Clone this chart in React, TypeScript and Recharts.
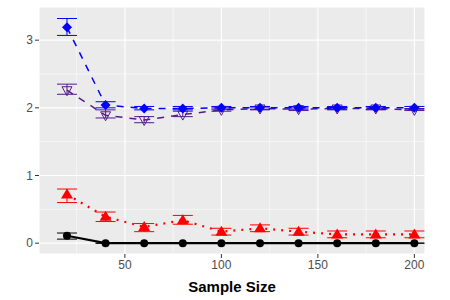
import { LineChart, Line, XAxis, YAxis, CartesianGrid, ErrorBar, ReferenceLine } from 'recharts';

const sampleSizes = [20, 40, 60, 80, 100, 120, 140, 160, 180, 200];

const blueMean = [3.19, 2.04, 1.99, 1.99, 2.0, 2.0, 2.0, 2.0, 2.0, 2.0];
const blueLow = [3.07, 2.0, 1.97, 1.97, 1.98, 1.98, 1.98, 1.98, 1.98, 1.98];
const blueHigh = [3.32, 2.09, 2.02, 2.02, 2.02, 2.02, 2.02, 2.02, 2.02, 2.02];

const purpleMean = [2.26, 1.89, 1.82, 1.9, 1.97, 1.99, 1.98, 1.99, 1.99, 1.97];
const purpleLow = [2.2, 1.85, 1.78, 1.87, 1.95, 1.97, 1.96, 1.97, 1.97, 1.96];
const purpleHigh = [2.35, 1.97, 1.87, 1.95, 2.0, 2.01, 2.0, 2.01, 2.01, 1.99];

const redMean = [0.72, 0.39, 0.24, 0.34, 0.17, 0.22, 0.17, 0.13, 0.13, 0.13];
const redLow = [0.6, 0.32, 0.17, 0.28, 0.12, 0.17, 0.12, 0.08, 0.08, 0.08];
const redHigh = [0.8, 0.46, 0.29, 0.41, 0.22, 0.27, 0.22, 0.18, 0.18, 0.18];

const blackMean = [0.11, 0, 0, 0, 0, 0, 0, 0, 0, 0];
const blackLow = [0.06, 0, 0, 0, 0, 0, 0, 0, 0, 0];
const blackHigh = [0.15, 0, 0, 0, 0, 0, 0, 0, 0, 0];

const xTicks = [50, 100, 150, 200];
const yTicks = [0, 1, 2, 3];
const xMinor = [25, 75, 125, 175];
const yMinor = [0.5, 1.5, 2.5];

const data = sampleSizes.map((n, i) => ({
  n,
  blue: blueMean[i],
  blueErr: [blueMean[i] - blueLow[i], blueHigh[i] - blueMean[i]],
  purple: purpleMean[i],
  purpleErr: [purpleMean[i] - purpleLow[i], purpleHigh[i] - purpleMean[i]],
  red: redMean[i],
  redErr: [redMean[i] - redLow[i], redHigh[i] - redMean[i]],
  black: blackMean[i],
  blackErr: [blackMean[i] - blackLow[i], blackHigh[i] - blackMean[i]],
}));

const Diamond = (props: any) => {
  const { cx, cy, index } = props;
  return <path key={`d-${index}`} d={`M${cx},${cy - 5}L${cx + 5},${cy}L${cx},${cy + 5}L${cx - 5},${cy}Z`} fill="#0000FF" />;
};

const DownTriangle = (props: any) => {
  const { cx, cy, index } = props;
  return (
    <path
      key={`v-${index}`}
      d={`M${cx - 5},${cy - 3.5}L${cx + 5},${cy - 3.5}L${cx},${cy + 5.5}Z`}
      fill="none"
      stroke="#551A8B"
      strokeWidth={1}
    />
  );
};

const UpTriangle = (props: any) => {
  const { cx, cy, index } = props;
  return <path key={`t-${index}`} d={`M${cx},${cy - 6}L${cx + 6},${cy + 4}L${cx - 6},${cy + 4}Z`} fill="#FF0000" />;
};

const Circle = (props: any) => {
  const { cx, cy, index } = props;
  return <circle key={`c-${index}`} cx={cx} cy={cy} r={4} fill="#000000" />;
};

const tickStyle = { fill: '#4D4D4D', fontSize: 12, fontFamily: 'Liberation Sans, Arial, sans-serif' };

export default function App() {
  return (
    <div style={{ position: 'absolute', left: 0, top: 0 }}>
      <LineChart width={450} height={300} data={data} margin={{ top: 7, right: 25, left: 0, bottom: 0 }}>
        <CartesianGrid fill="#EBEBEB" stroke="#FFFFFF" strokeWidth={1.1} />
        {xMinor.map((v) => (
          <ReferenceLine key={`xm-${v}`} x={v} stroke="#FFFFFF" strokeWidth={0.55} />
        ))}
        {yMinor.map((v) => (
          <ReferenceLine key={`ym-${v}`} y={v} stroke="#FFFFFF" strokeWidth={0.55} />
        ))}
        <XAxis
          dataKey="n"
          type="number"
          domain={[5.5, 205.5]}
          ticks={xTicks}
          allowDataOverflow
          axisLine={false}
          tickLine={{ stroke: '#333333' }}
          tickSize={4}
          tick={tickStyle}
          height={46}
          label={{
            value: 'Sample Size',
            position: 'insideBottom',
            offset: 8,
            style: { fill: '#000000', fontSize: 15, fontWeight: 'bold', fontFamily: 'Liberation Sans, Arial, sans-serif' },
          }}
        />
        <YAxis
          type="number"
          domain={[-0.16, 3.49]}
          ticks={yTicks}
          allowDataOverflow
          axisLine={false}
          tickLine={{ stroke: '#333333' }}
          tickSize={4}
          tick={tickStyle}
          width={39}
        />
        <Line dataKey="black" stroke="#000000" strokeWidth={2.2} dot={Circle} isAnimationActive={false}>
          <ErrorBar dataKey="blackErr" width={10} stroke="#000000" strokeWidth={1} />
        </Line>
        <Line dataKey="red" stroke="#FF0000" strokeWidth={2.2} strokeDasharray="2 6" dot={UpTriangle} isAnimationActive={false}>
          <ErrorBar dataKey="redErr" width={10} stroke="#FF0000" strokeWidth={1} />
        </Line>
        <Line dataKey="purple" stroke="#551A8B" strokeWidth={1.5} strokeDasharray="7 7" dot={DownTriangle} isAnimationActive={false}>
          <ErrorBar dataKey="purpleErr" width={10} stroke="#551A8B" strokeWidth={1} />
        </Line>
        <Line dataKey="blue" stroke="#0000FF" strokeWidth={1.5} strokeDasharray="7 7" dot={Diamond} isAnimationActive={false}>
          <ErrorBar dataKey="blueErr" width={10} stroke="#0000FF" strokeWidth={1} />
        </Line>
      </LineChart>
    </div>
  );
}
